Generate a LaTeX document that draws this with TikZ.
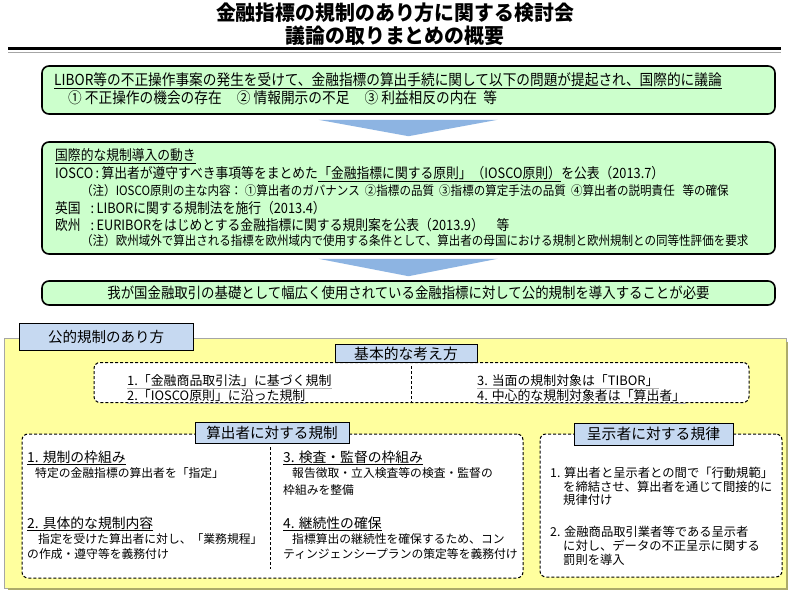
\documentclass[tikz,border=0pt]{standalone}
\usepackage{fontspec}
\setmainfont{Noto Sans CJK JP}
\newfontfamily\jpc[FakeStretch=0.9]{Noto Sans CJK JP}
\newfontfamily\jpt[FakeStretch=0.97]{Noto Sans CJK JP}
\usetikzlibrary{calc}
\newcommand{\fsz}[1]{\fontsize{#1}{#1}\selectfont}
\newcommand{\jfA}{\jpc\fsz{15.2}}
\newcommand{\jfB}{\jpc\fsz{14.2}}
\newcommand{\jfN}{\jpc\fsz{12.8}}
\newcommand{\jfC}{\jpc\fsz{14.9}}
\newcommand{\jfH}{\fsz{13.8}}
\newcommand{\jfT}{\fsz{11.8}}
\newcommand{\jfR}{\fsz{12.3}}
\definecolor{boxgreen}{HTML}{CCFFCC}
\definecolor{arrowblue}{HTML}{8DB4E2}
\definecolor{tabblue}{HTML}{C6D9F1}
\definecolor{paleyellow}{HTML}{FFFF9E}
\definecolor{shadeolive}{HTML}{ADAB6A}
\tikzset{
  greenbox/.style={draw=black, line width=1.6pt, rounded corners=7pt, fill=boxgreen, inner sep=0pt},
  dashbox/.style={draw=black, line width=1pt, dash pattern=on 3pt off 2pt, rounded corners=6pt, fill=white, inner sep=0pt},
  labelbox/.style={draw=black, line width=0.8pt, fill=tabblue, inner sep=0pt},
  t/.style={anchor=west, inner sep=0pt},
  ul/.style={append after command={([yshift=-1.3pt]\tikzlastnode.south west) edge[line width=0.8pt,#1] ([yshift=-1.3pt]\tikzlastnode.south east)}},
  ul/.default=black,
  arrowfill/.style={fill=arrowblue}
}
\begin{document}
\begin{tikzpicture}[x=1pt,y=-1pt]
\useasboundingbox (0,0) rectangle (789,593);
\fill[white] (0,0) rectangle (789,593);

% title
\node[inner sep=0pt] (title1) at (395,13) {\jpt\bfseries\fsz{20.5}金融指標の規制のあり方に関する検討会};
\node[inner sep=0pt] (title2) at (395,35.5) {\jpt\bfseries\fsz{20.5}議論の取りまとめの概要};
\coordinate (rl) at (8,48.5);
\coordinate (rr) at (781,48.5);
\draw[line width=3pt] (rl) -- (rr);
\draw[gray!70, line width=1.5pt] ($(rl)+(0,3.8)$) -- ($(rr)+(0,3.8)$);

% upper boxes
\node[greenbox, minimum width=733pt, minimum height=48pt] (b1) at (408.5,90) {};
\node[greenbox, minimum width=733pt, minimum height=112pt] (b2) at (408.5,198) {};
\node[greenbox, minimum width=733pt, minimum height=24pt] (b3) at (408.5,293) {};

\fill[arrowfill] ($(b1.south)+(-90,5)$) -- ($(b1.south)+(89,5)$) -- ($(b2.north)+(0,-5)$) -- cycle;
\fill[arrowfill] ($(b2.south)+(-90,4)$) -- ($(b2.south)+(89,4)$) -- ($(b3.north)+(0,-4)$) -- cycle;

\node[t, ul] (l1) at (54,80) {\jfA LIBOR等の不正操作事案の発生を受けて、金融指標の算出手続に関して以下の問題が提起され、国際的に議論};
\node[t] (l2) at (68,98) {\jfA ①\ 不正操作の機会の存在\quad ②\ 情報開示の不足\quad ③\ 利益相反の内在\ \ 等};

\node[t, ul] (h2) at (55,155) {\jfB 国際的な規制導入の動き};
\node[t] (io1) at (55,173) {\jfB IOSCO\,:\,算出者が遵守すべき事項等をまとめた};
\node[t, anchor=base west, ul] (io2) at (io1.base east) {\jfB 「金融指標に関する原則」（IOSCO原則）};
\node[t, anchor=base west] (io3) at (io2.base east) {\jfB を公表（2013.7）};
\node[t] (n1) at (81,191) {\jfN （注）IOSCO原則の主な内容：\ ①算出者のガバナンス\ \ ②指標の品質\ \ ③指標の算定手法の品質\ \ ④算出者の説明責任\ \ \ 等の確保};
\node[t] (uk) at (55,208) {\jfB 英国\enspace\ :\,LIBORに関する規制法を施行（2013.4）};
\node[t] (eu) at (55,225) {\jfB 欧州\enspace\ :\,EURIBORをはじめとする金融指標に関する規則案を公表（2013.9）　等};
\node[t] (n2) at (81,241) {\jfN （注）欧州域外で算出される指標を欧州域内で使用する条件として、算出者の母国における規制と欧州規制との同等性評価を要求};

\node[inner sep=0pt] (l3) at (b3) {\jfC 我が国金融取引の基礎として幅広く使用されている金融指標に対して公的規制を導入することが必要};

% lower section
\node[draw=gray!70, line width=0.8pt, fill=paleyellow, minimum width=782pt, minimum height=250pt, inner sep=0pt] (yb) at (395,463) {};
\draw[shadeolive, line width=2pt] ([xshift=1pt,yshift=-4pt]yb.north east) -- ([xshift=1pt,yshift=-1pt]yb.south east) -- ([xshift=4pt,yshift=-1pt]yb.south west);
\node[labelbox, minimum width=174pt, minimum height=27pt] (tab) at (106,337) {\fsz{14.5}公的規制のあり方};

% basic ideas
\node[dashbox, minimum width=655pt, minimum height=40pt] (bas) at (421.5,382.5) {};
\node[labelbox, minimum width=142pt, minimum height=18pt] (basl) at (406,353.5) {\fsz{14.8}基本的な考え方};
\draw[line width=1pt, dash pattern=on 3pt off 2pt] (411,366) -- (411,402);
\node[t, ul=gray!60] (p1) at (127,381) {\fsz{12.9}1.「金融商品取引法」に基づく規制};
\node[t, ul=gray!60] (p2) at (127,396) {\fsz{12.9}2.「IOSCO原則」に沿った規制};
\node[t, ul=gray!60] (p3) at (477,381) {\fsz{12.9}3. 当面の規制対象は「TIBOR」};
\node[t, ul=gray!60] (p4) at (477,396) {\fsz{12.9}4. 中心的な規制対象者は「算出者」};

% calculator regulation
\node[dashbox, minimum width=501pt, minimum height=144pt] (cal) at (272.5,506) {};
\node[labelbox, minimum width=154pt, minimum height=21pt] (call) at (272,432.5) {\fsz{14.6}算出者に対する規制};
\draw[line width=1pt, dash pattern=on 3pt off 2pt] (270,447) -- (270,569);
\node[t, ul] (c1) at (27,457) {\jfH 1. 規制の枠組み};
\node[t] (c1a) at (35,473) {\jfT 特定の金融指標の算出者を「指定」};
\node[t, ul] (c2) at (27,523) {\jfH 2. 具体的な規制内容};
\node[t] (c2a) at (38,539) {\jfT 指定を受けた算出者に対し、「業務規程」};
\node[t] (c2b) at (27,554) {\jfT の作成・遵守等を義務付け};
\node[t, ul] (c3) at (283,457) {\jfH 3. 検査・監督の枠組み};
\node[t] (c3a) at (292,473) {\jfT 報告徴取・立入検査等の検査・監督の};
\node[t] (c3b) at (283,490) {\jfT 枠組みを整備};
\node[t, ul] (c4) at (283,523) {\jfH 4. 継続性の確保};
\node[t] (c4a) at (292,539) {\jfT 指標算出の継続性を確保するため、コン};
\node[t] (c4b) at (283,554) {\jfT ティンジェンシープランの策定等を義務付け};

% submitter discipline
\node[dashbox, minimum width=242pt, minimum height=143pt] (sub) at (661,505.5) {};
\node[labelbox, minimum width=159pt, minimum height=22pt] (subl) at (653.5,434) {\fsz{14.8}呈示者に対する規律};
\node[t] (s1) at (550,473) {\jfR 1. 算出者と呈示者との間で「行動規範」};
\node[t] (s1a) at (563,487) {\jfR を締結させ、算出者を通じて間接的に};
\node[t] (s1b) at (563,500) {\jfR 規律付け};
\node[t] (s2) at (550,532) {\jfR 2. 金融商品取引業者等である呈示者};
\node[t] (s2a) at (563,546) {\jfR に対し、データの不正呈示に関する};
\node[t] (s2b) at (563,560) {\jfR 罰則を導入};
\end{tikzpicture}
\end{document}
